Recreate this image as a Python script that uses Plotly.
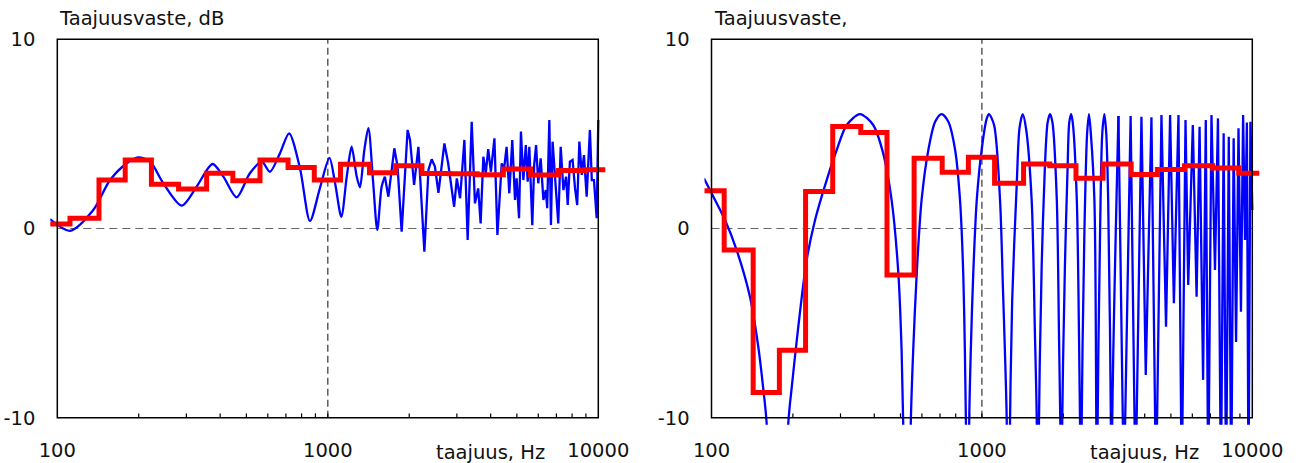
import numpy as np
import plotly.graph_objects as go

# 1/3-octave band centres (Hz) and band levels (dB), red step curves
band_centers = [100, 125, 160, 200, 250, 315, 400, 500, 630, 800, 1000,
                1250, 1600, 2000, 2500, 3150, 4000, 5000, 6300, 8000, 10000]
red_left = [0.24, 0.54, 2.57, 3.62, 2.34, 2.09, 2.92, 2.53, 3.62, 3.22, 2.57,
            3.39, 2.95, 3.31, 2.91, 2.90, 2.84, 3.15, 2.83, 3.06, 3.11]
red_right = [2.00, -1.14, -8.67, -6.43, 1.95, 5.39, 5.07, -2.46, 3.71, 2.97, 3.77,
             2.39, 3.41, 3.32, 2.66, 3.41, 2.85, 3.12, 3.32, 3.20, 2.92]

# blue curve, left panel: log10(frequency) and dB, smooth low part
blue_left_smooth_logf = [1.973, 2.047, 2.133, 2.195, 2.257, 2.299, 2.343, 2.392, 2.460, 2.515,
                         2.574, 2.614, 2.663, 2.712, 2.756, 2.786, 2.823, 2.857, 2.897, 2.934,
                         2.971, 3.006, 3.027, 3.050, 3.070, 3.088, 3.107, 3.119, 3.135, 3.150,
                         3.167, 3.183, 3.199, 3.211]
blue_left_smooth_db = [0.50, -0.12, 0.98, 2.56, 3.45, 3.76, 3.53, 2.39, 1.21, 2.21,
                       3.41, 2.74, 1.65, 2.92, 3.53, 3.00, 3.97, 5.03, 3.20, 0.40,
                       2.14, 3.73, 2.39, 0.62, 2.74, 4.32, 2.74, 2.18, 4.15, 5.30,
                       2.56, -0.08, 2.21, 2.74]
# jagged high part
blue_left_rough_logf = [3.211, 3.224, 3.246, 3.258, 3.273, 3.295, 3.304, 3.319, 3.335, 3.357,
                        3.372, 3.384, 3.396, 3.409, 3.431, 3.445, 3.467, 3.477, 3.489, 3.505,
                        3.517, 3.532, 3.544, 3.556, 3.565, 3.575, 3.584, 3.593, 3.603, 3.616,
                        3.627, 3.643, 3.651, 3.661, 3.671, 3.682, 3.692, 3.698, 3.707, 3.714,
                        3.723, 3.732, 3.739, 3.745, 3.756, 3.763, 3.770, 3.778, 3.787, 3.797,
                        3.806, 3.811, 3.819, 3.825, 3.831, 3.840, 3.846, 3.852, 3.861, 3.871,
                        3.881, 3.887, 3.895, 3.905, 3.914, 3.922, 3.930, 3.939, 3.947, 3.957,
                        3.969, 3.976, 3.984, 3.994, 4.000]
blue_left_rough_db = [2.74, 1.68, 4.24, 3.27, -0.17, 5.21, 4.68, 2.30, 4.32, -1.23,
                      3.09, 3.66, 3.27, 1.89, 4.50, 3.45, 1.15, 2.65, 1.60, 4.68,
                      -0.61, 5.64, 1.33, 2.12, 0.27, 3.79, 2.92, 4.19, 3.00, 4.77,
                      -0.34, 3.45, 3.09, 4.32, 1.86, 4.68, 1.51, 2.65, 0.54, 5.12,
                      2.56, 4.41, 2.47, 4.32, 0.18, 3.36, 4.41, 2.39, 3.71, 1.51,
                      2.03, 1.07, 5.73, 0.18, 4.59, 2.56, 1.51, 0.27, 4.32, 2.03,
                      2.74, 1.24, 3.53, 3.62, 2.12, 1.24, 4.59, 2.83, 3.88, 1.68,
                      5.21, 2.56, 2.56, 0.54, 5.73]

# blue curve, right panel (comb-like response)
blue_right_smooth_logf = [1.972, 2.007, 2.050, 2.093, 2.142, 2.173, 2.192, 2.204, 2.246, 2.284,
                          2.297, 2.321, 2.352, 2.383, 2.426, 2.463, 2.500, 2.549, 2.598, 2.635,
                          2.666, 2.691, 2.703, 2.709, 2.723, 2.737, 2.746, 2.759, 2.777, 2.802,
                          2.827, 2.851, 2.876, 2.901, 2.919, 2.931, 2.937, 2.941, 2.949, 2.953,
                          2.959, 2.968, 2.981, 2.999, 3.018, 3.026, 3.045, 3.067, 3.078, 3.085,
                          3.092, 3.098, 3.104, 3.112, 3.129, 3.139, 3.151, 3.163, 3.184, 3.196,
                          3.203, 3.207, 3.211, 3.221, 3.233, 3.243, 3.252, 3.261, 3.277, 3.285,
                          3.290, 3.294, 3.297, 3.307, 3.317, 3.323, 3.330, 3.336, 3.351, 3.359,
                          3.363, 3.366, 3.369, 3.379, 3.389, 3.396, 3.403, 3.416, 3.423, 3.426,
                          3.428, 3.437, 3.445, 3.453, 3.460, 3.467, 3.477, 3.480, 3.482, 3.505]
blue_right_smooth_db = [2.65, 1.68, 0.45, -1.14, -3.60, -6.25, -8.54, -10.30, -30.0, -10.30,
                        -8.36, -5.19, -1.66, 0.45, 2.56, 4.15, 5.47, 6.05, 5.47, 3.97,
                        1.51, -2.37, -6.42, -10.30, -30.0, -10.30, -6.42, -2.37, 1.51, 4.15,
                        5.64, 6.05, 5.64, 4.15, 1.51, -2.37, -6.42, -10.30, -30.0, -10.30,
                        -6.42, -2.37, 1.51, 4.15, 5.82, 6.05, 5.47, 1.51, -3.25, -6.42,
                        -10.30, -30.0, -10.30, -3.78, 2.40, 5.30, 6.05, 5.30, 1.51, -5.50,
                        -10.30, -30.0, -10.30, -2.00, 3.27, 5.60, 6.05, 5.60, 1.51, -5.50,
                        -10.30, -30.0, -10.30, -2.00, 3.27, 5.60, 6.05, 5.60, 1.51, -5.50,
                        -10.30, -30.0, -10.30, -0.24, 5.00, 6.05, 5.00, 1.51, -10.30, -30.0,
                        -10.30, -0.24, 5.00, 6.05, 5.00, 1.51, -10.30, -30.0, -10.30, 5.95]
blue_right_rough_logf = [3.505, 3.525, 3.550, 3.568, 3.590, 3.606, 3.627, 3.644, 3.664, 3.681,
                         3.696, 3.710, 3.727, 3.739, 3.753, 3.763, 3.780, 3.794, 3.805, 3.818,
                         3.828, 3.837, 3.849, 3.862, 3.873, 3.884, 3.894, 3.903, 3.913, 3.922,
                         3.931, 3.940, 3.949, 3.958, 3.966, 3.973, 3.980, 3.986, 3.993, 4.000]
blue_right_rough_db = [5.95, -14.0, 5.94, -14.0, 5.91, -7.74, 5.88, -14.0, 6.00, -5.19,
                       6.00, -3.95, 6.00, -14.0, 5.73, -2.99, 5.47, -3.60, 5.38, -8.00,
                       5.73, -14.0, 6.00, -2.19, 5.82, -14.0, 5.03, -14.0, 4.85, -14.0,
                       4.77, -6.00, 5.30, -4.40, 6.00, -0.61, 5.60, -14.0, 5.64, 0.98]

minor_ticks = [200, 300, 400, 500, 600, 700, 800, 900, 1000,
               2000, 3000, 4000, 5000, 6000, 7000, 8000, 9000]

BLUE = "#0000ff"
RED = "#ff0000"
FONT = "DejaVu Sans"
FS = 19.5
W, H = 1296, 463
EXT = 7  # px the drawing area extends beyond the frame

panels = [
    dict(frame=(57.3, 598.3), xa="x", ya="y",
         smooth=(blue_left_smooth_logf, blue_left_smooth_db),
         rough=(blue_left_rough_logf, blue_left_rough_db),
         red=red_left, title="Taajuusvaste, dB"),
    dict(frame=(711.5, 1252.3), xa="x2", ya="y2",
         smooth=(blue_right_smooth_logf, blue_right_smooth_db),
         rough=(blue_right_rough_logf, blue_right_rough_db),
         red=red_right, title="Taajuusvaste,"),
]
frame_top, frame_bottom = 39.3, 417.7

fig = go.Figure()
shapes = []
annotations = []
layout_axes = {}

for i, p in enumerate(panels):
    xa, ya = p["xa"], p["ya"]
    lf, db = p["smooth"]
    fig.add_trace(go.Scatter(x=[10 ** v for v in lf], y=db, mode="lines",
                             line=dict(color=BLUE, width=2.3, shape="spline", smoothing=0.8),
                             xaxis=xa, yaxis=ya, hoverinfo="skip"))
    lf, db = p["rough"]
    fig.add_trace(go.Scatter(x=[10 ** v for v in lf], y=db, mode="lines",
                             line=dict(color=BLUE, width=2.3),
                             xaxis=xa, yaxis=ya, hoverinfo="skip"))
    logc = np.log10(band_centers)
    xs = list(10 ** (logc - 0.05)) + [10 ** (logc[-1] + 0.05)]
    ys = list(p["red"]) + [p["red"][-1]]
    fig.add_trace(go.Scatter(x=xs, y=ys, mode="lines",
                             line=dict(color=RED, width=5, shape="hv"),
                             xaxis=xa, yaxis=ya, hoverinfo="skip"))

    fx0, fx1 = p["frame"]
    dec = (fx1 - fx0) / 2.0
    xr = [2 - EXT / dec, 4 + EXT / dec]
    dbpx = (frame_bottom - frame_top) / 20.0
    yr = [-10 - EXT / dbpx, 10 + EXT / dbpx]
    xdom = [(fx0 - EXT) / W, (fx1 + EXT) / W]
    ydom = [1 - (frame_bottom + EXT) / H, 1 - (frame_top - EXT) / H]
    sfx = "" if i == 0 else "2"
    layout_axes["xaxis" + sfx] = dict(
        type="log", domain=xdom, range=xr, anchor=ya, showgrid=False, zeroline=False,
        showline=False, tickvals=[100, 1000, 10000], ticktext=["100", "1000", "10000"],
        ticks="outside", ticklen=8, tickcolor="rgba(0,0,0,0)", automargin=False,
        tickfont=dict(family=FONT, size=FS, color="#111"))
    layout_axes["yaxis" + sfx] = dict(
        domain=ydom, range=yr, anchor=xa, showgrid=False, zeroline=False, showline=False,
        tickvals=[-10, 0, 10], ticktext=["-10", "0", "10"], automargin=False,
        ticks="outside", ticklen=10, tickcolor="rgba(0,0,0,0)",
        tickfont=dict(family=FONT, size=FS, color="#111"))

    def fx(lfv, xr=xr):
        return (lfv - xr[0]) / (xr[1] - xr[0])

    def fy(v, yr=yr):
        return (v - yr[0]) / (yr[1] - yr[0])

    xd, yd = xa + " domain", ya + " domain"
    shapes.append(dict(type="line", xref=xd, yref=yd, x0=fx(3), x1=fx(3), y0=fy(-10), y1=fy(10),
                       line=dict(color="#444444", width=1.3, dash="7px,4px"), layer="below"))
    shapes.append(dict(type="line", xref=xd, yref=yd, x0=fx(2), x1=fx(4), y0=fy(0), y1=fy(0),
                       line=dict(color="#666666", width=1.1, dash="8px,5px"), layer="below"))
    for t in minor_ticks:
        shapes.append(dict(type="line", xref=xd, yref=yd,
                           x0=fx(np.log10(t)), x1=fx(np.log10(t)),
                           y0=fy(-10), y1=fy(-10 + 4.3 / dbpx),
                           line=dict(color="#000", width=1.2), layer="above"))
    shapes.append(dict(type="rect", xref=xd, yref=yd, x0=fx(2), x1=fx(4), y0=fy(-10), y1=fy(10),
                       line=dict(color="#000", width=1.5), fillcolor="rgba(0,0,0,0)",
                       layer="above"))
    annotations.append(dict(text=p["title"], xref="paper", yref="paper",
                            x=fx0 / W, y=1 - 18.5 / H, xanchor="left", yanchor="middle",
                            showarrow=False, font=dict(family=FONT, size=FS, color="#111")))
    annotations.append(dict(text="taajuus, Hz", xref="paper", yref="paper",
                            x=(fx0 + 433) / W, y=1 - 452 / H, xanchor="center",
                            yanchor="middle", showarrow=False,
                            font=dict(family=FONT, size=FS, color="#111")))

fig.update_layout(width=W, height=H, margin=dict(l=0, r=0, t=0, b=0, autoexpand=False),
                  paper_bgcolor="white", plot_bgcolor="white", showlegend=False,
                  font=dict(family=FONT, size=FS, color="#111"),
                  shapes=shapes, annotations=annotations, **layout_axes)
fig.write_html("out.html", config={"responsive": False, "displayModeBar": False},
               post_script="document.body.style.margin='0';document.body.style.overflow='hidden';")
